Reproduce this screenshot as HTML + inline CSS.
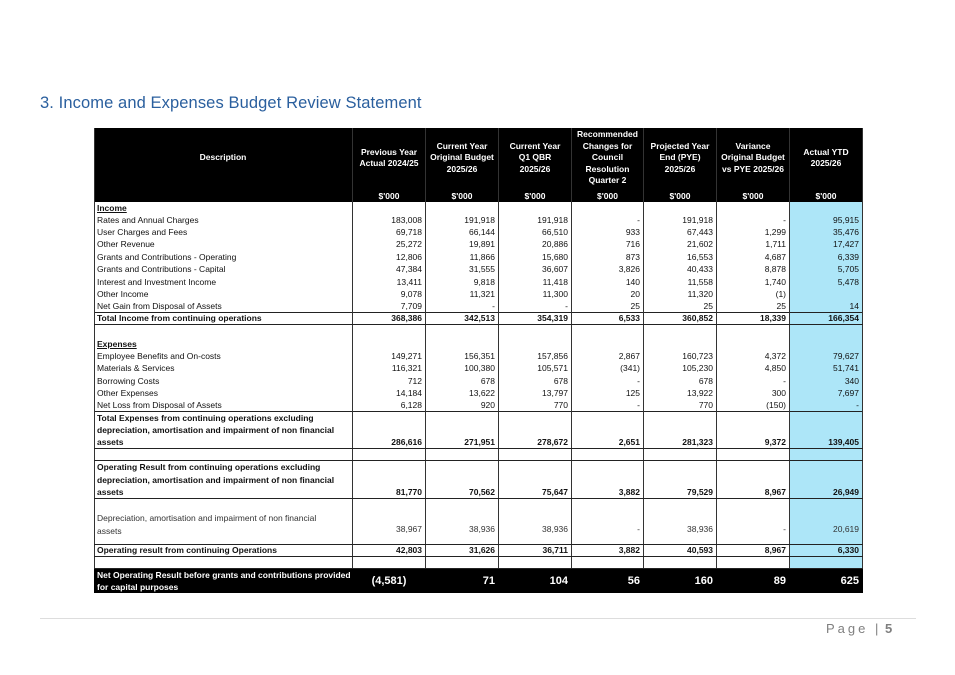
<!DOCTYPE html>
<html><head><meta charset="utf-8"><style>
body{margin:0;width:955px;height:675px;background:#fff;position:relative;overflow:hidden;font-family:"Liberation Sans",Arial,sans-serif}
.title{position:absolute;left:40px;top:94px;font-size:16.5px;color:#2a5f9e;letter-spacing:0.1px}
table{position:absolute;left:94px;top:128px;border-collapse:collapse;table-layout:fixed;width:768px;font-size:8.5px;color:#111}
td{padding:0 3px;overflow:hidden;white-space:nowrap;border-left:1px solid #333;border-right:1px solid #333;text-align:right;vertical-align:bottom;line-height:11px}
td:first-child{text-align:left;padding-left:2px}
td:last-child{background:#ade6f8}
tr.h td{background:#000;color:#fff;font-weight:bold;text-align:center;vertical-align:middle;line-height:11.5px;white-space:nowrap}
tr.h2 td{background:#000;color:#fff;font-weight:bold;text-align:center;vertical-align:bottom}
tr.b td{font-weight:bold}
tr.t td{border-top:1px solid #222}
tr.bb td{border-bottom:1px solid #222}
tr.k td{background:#000;color:#fff;font-weight:bold;font-size:11px;vertical-align:middle;border-color:#000}
tr.k td:first-child{font-size:8.5px;line-height:12px}
.g td{color:#333}
.foot{position:absolute;left:40px;top:618px;width:876px;border-top:1px solid #ddd}
.pg{position:absolute;left:826px;top:621px;font-size:13px;color:#7f7f7f;letter-spacing:3px}
.pg b{color:#7f7f7f;letter-spacing:0}
</style></head><body>
<div class="title">3. Income and Expenses Budget Review Statement</div>
<table>
<colgroup><col style="width:258px"><col style="width:73px"><col style="width:73px"><col style="width:73px"><col style="width:72px"><col style="width:73px"><col style="width:73px"><col style="width:73px"></colgroup>
<tr class="h" style="height:60px"><td style="text-align:center">Description</td><td>Previous Year<br>Actual 2024/25</td><td>Current Year<br>Original Budget<br>2025/26</td><td>Current Year<br>Q1 QBR<br>2025/26</td><td>Recommended<br>Changes for<br>Council<br>Resolution<br>Quarter 2</td><td>Projected Year<br>End (PYE)<br>2025/26</td><td>Variance<br>Original Budget<br>vs PYE 2025/26</td><td style="background:#000">Actual YTD<br>2025/26</td></tr>
<tr class="h2" style="height:14px"><td></td><td>$'000</td><td>$'000</td><td>$'000</td><td>$'000</td><td>$'000</td><td>$'000</td><td style="background:#000">$'000</td></tr>
<tr class="b" style="height:12px"><td><u>Income</u></td><td></td><td></td><td></td><td></td><td></td><td></td><td></td></tr>
<tr style="height:12px"><td>Rates and Annual Charges</td><td>183,008</td><td>191,918</td><td>191,918</td><td>-</td><td>191,918</td><td>-</td><td>95,915</td></tr>
<tr style="height:12px"><td>User Charges and Fees</td><td>69,718</td><td>66,144</td><td>66,510</td><td>933</td><td>67,443</td><td>1,299</td><td>35,476</td></tr>
<tr style="height:12px"><td>Other Revenue</td><td>25,272</td><td>19,891</td><td>20,886</td><td>716</td><td>21,602</td><td>1,711</td><td>17,427</td></tr>
<tr style="height:13px"><td>Grants and Contributions - Operating</td><td>12,806</td><td>11,866</td><td>15,680</td><td>873</td><td>16,553</td><td>4,687</td><td>6,339</td></tr>
<tr style="height:12px"><td>Grants and Contributions - Capital</td><td>47,384</td><td>31,555</td><td>36,607</td><td>3,826</td><td>40,433</td><td>8,878</td><td>5,705</td></tr>
<tr style="height:13px"><td>Interest and Investment Income</td><td>13,411</td><td>9,818</td><td>11,418</td><td>140</td><td>11,558</td><td>1,740</td><td>5,478</td></tr>
<tr style="height:12px"><td>Other Income</td><td>9,078</td><td>11,321</td><td>11,300</td><td>20</td><td>11,320</td><td>(1)</td><td></td></tr>
<tr style="height:12px"><td>Net Gain from Disposal of Assets</td><td>7,709</td><td>-</td><td>-</td><td>25</td><td>25</td><td>25</td><td>14</td></tr>
<tr class="b t bb" style="height:12px"><td>Total Income from continuing operations</td><td>368,386</td><td>342,513</td><td>354,319</td><td>6,533</td><td>360,852</td><td>18,339</td><td>166,354</td></tr>
<tr style="height:14px"><td></td><td></td><td></td><td></td><td></td><td></td><td></td><td></td></tr>
<tr class="b" style="height:12px"><td><u>Expenses</u></td><td></td><td></td><td></td><td></td><td></td><td></td><td></td></tr>
<tr style="height:12px"><td>Employee Benefits and On-costs</td><td>149,271</td><td>156,351</td><td>157,856</td><td>2,867</td><td>160,723</td><td>4,372</td><td>79,627</td></tr>
<tr style="height:12px"><td>Materials &amp; Services</td><td>116,321</td><td>100,380</td><td>105,571</td><td>(341)</td><td>105,230</td><td>4,850</td><td>51,741</td></tr>
<tr style="height:13px"><td>Borrowing Costs</td><td>712</td><td>678</td><td>678</td><td>-</td><td>678</td><td>-</td><td>340</td></tr>
<tr style="height:12px"><td>Other Expenses</td><td>14,184</td><td>13,622</td><td>13,797</td><td>125</td><td>13,922</td><td>300</td><td>7,697</td></tr>
<tr style="height:12px"><td>Net Loss from Disposal of Assets</td><td>6,128</td><td>920</td><td>770</td><td>-</td><td>770</td><td>(150)</td><td>-</td></tr>
<tr class="b t bb" style="height:36px"><td style="line-height:12.3px">Total Expenses from continuing operations excluding<br>depreciation, amortisation and impairment of non financial<br>assets</td><td>286,616</td><td>271,951</td><td>278,672</td><td>2,651</td><td>281,323</td><td>9,372</td><td>139,405</td></tr>
<tr class="bb" style="height:12px"><td></td><td></td><td></td><td></td><td></td><td></td><td></td><td></td></tr>
<tr class="b bb" style="height:37px"><td style="line-height:12.3px">Operating Result from continuing operations excluding<br>depreciation, amortisation and impairment of non financial<br>assets</td><td>81,770</td><td>70,562</td><td>75,647</td><td>3,882</td><td>79,529</td><td>8,967</td><td>26,949</td></tr>
<tr class="g bb" style="height:46px"><td style="vertical-align:middle;line-height:12.3px;padding-top:6px">Depreciation, amortisation and impairment of non financial<br>assets</td><td style="padding-bottom:9px">38,967</td><td style="padding-bottom:9px">38,936</td><td style="padding-bottom:9px">38,936</td><td style="padding-bottom:9px">-</td><td style="padding-bottom:9px">38,936</td><td style="padding-bottom:9px">-</td><td style="padding-bottom:9px">20,619</td></tr>
<tr class="b bb" style="height:12px"><td>Operating result from continuing Operations</td><td>42,803</td><td>31,626</td><td>36,711</td><td>3,882</td><td>40,593</td><td>8,967</td><td>6,330</td></tr>
<tr class="bb" style="height:12px"><td></td><td></td><td></td><td></td><td></td><td></td><td></td><td></td></tr>
<tr class="k" style="height:24px"><td>Net Operating Result before grants and contributions provided<br>for capital purposes</td><td style="text-align:center">(4,581)</td><td>71</td><td>104</td><td>56</td><td>160</td><td>89</td><td style="background:#000">625</td></tr>
</table>
<div class="foot"></div>
<div class="pg">Page <span style="letter-spacing:0">|</span> <b>5</b></div>
</body></html>
